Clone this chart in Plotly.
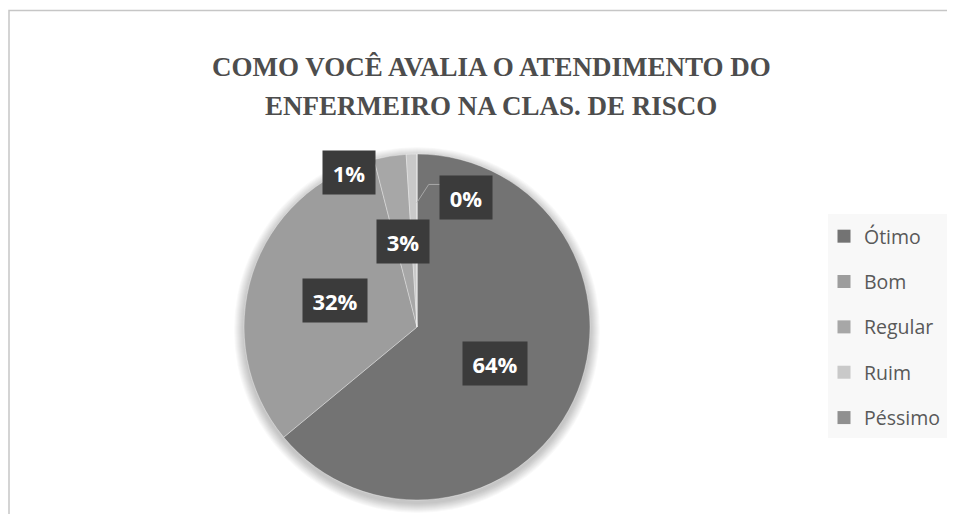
import math
import plotly.graph_objects as go

# ---------------- data ----------------
categories = ["Ótimo", "Bom", "Regular", "Ruim", "Péssimo"]
values = [64, 32, 3, 1, 0]
colors = ["#737373", "#9d9d9d", "#a7a7a7", "#c9c9c9", "#909090"]
title_lines = ["COMO VOCÊ AVALIA O ATENDIMENTO DO", "ENFERMEIRO NA CLAS. DE RISCO"]

# ---------------- layout helpers ----------------
# page body has an 8px margin; size the figure so it fits the window exactly
OFF = 8
W, H = 955 - 2 * OFF, 522 - 2 * OFF
def px(x):
    return (x - OFF) / W
def py(y):
    return 1 - (y - OFF) / H

cx, cy, R = 417, 327, 173  # pie centre / radius in window pixels

fig = go.Figure()

fig.add_trace(go.Pie(
    labels=categories,
    values=values,
    sort=False,
    direction="clockwise",
    rotation=0,
    marker=dict(colors=colors, line=dict(color="rgba(255,255,255,0.35)", width=1)),
    textinfo="none",
    hoverinfo="label+percent",
    showlegend=False,
    domain=dict(x=[px(cx - R), px(cx + R)], y=[py(cy + R), py(cy - R)]),
))

# legend entries (one group each so spacing can be set)
for lab, col in zip(categories, colors):
    fig.add_trace(go.Scatter(
        x=[None], y=[None], mode="markers",
        marker=dict(symbol="square", size=13, color=col),
        name=lab, legendgroup=lab, showlegend=True, hoverinfo="skip",
    ))

# ---------------- data labels ----------------
total = sum(values)
# label placement overrides (angle offset in degrees, radial fraction)
placement = {"Ruim": (-22, 0.976), "Péssimo": (20.6, 0.80)}
annotations = []
shapes = []
cum = 0.0
for lab, v in zip(categories, values):
    frac = v / total
    mid = (cum + frac / 2) * 360
    cum += frac
    dang, rf = placement.get(lab, (0, 0.5))
    ang = math.radians(mid + dang)
    lx = cx + rf * R * math.sin(ang)
    ly = cy - rf * R * math.cos(ang)
    txt = f"{round(frac * 100):.0f}%"
    annotations.append(dict(
        x=px(lx), y=py(ly), xref="paper", yref="paper",
        text=f"<b>{txt}</b>", showarrow=False,
        xanchor="center", yanchor="middle",
        width=50 if len(txt) <= 2 else 62, height=41,
        bgcolor="#3b3b3b",
        font=dict(family="Open Sans", size=22, color="#ffffff"),
    ))
    if lab == "Péssimo":
        # leader line from slice to label
        a0 = math.radians(mid)
        sx = cx + 0.72 * R * math.sin(a0)
        sy = cy - 0.72 * R * math.cos(a0)
        ex, ey = lx - 37, ly - 13
        fx, fy = lx - 25, ly - 13
        shapes.append(dict(
            type="path", xref="paper", yref="paper",
            path=f"M {px(sx)},{py(sy)} L {px(ex)},{py(ey)} L {px(fx)},{py(fy)}",
            line=dict(color="#a8a8a8", width=1),
        ))

# title lines
for i, line in enumerate(title_lines):
    annotations.append(dict(
        x=px(491), y=py(67 + 39 * i), xref="paper", yref="paper",
        text=f"<b>{line}</b>", showarrow=False,
        xanchor="center", yanchor="middle",
        font=dict(family="Liberation Serif", size=27, color="#4d4d4d"),
    ))

# soft shadow behind pie
for k in range(1, 11):
    r = R + k
    shapes.append(dict(
        type="circle", xref="paper", yref="paper", layer="below",
        x0=px(cx - r), x1=px(cx + r), y0=py(cy + 3 + r), y1=py(cy + 3 - r),
        fillcolor="rgba(0,0,0,0.022)", line=dict(width=0),
    ))

# chart border
shapes.append(dict(
    type="rect", xref="paper", yref="paper", layer="below",
    x0=px(9), x1=px(975), y0=py(545), y1=py(10.5),
    line=dict(color="#c6c6c6", width=1.5), fillcolor="rgba(0,0,0,0)",
))
# legend background
shapes.append(dict(
    type="rect", xref="paper", yref="paper", layer="below",
    x0=px(828), x1=px(951), y0=py(438), y1=py(214),
    line=dict(width=0), fillcolor="#f8f8f8",
))

fig.update_layout(
    width=W, height=H,
    margin=dict(l=0, r=0, t=0, b=0),
    paper_bgcolor="white", plot_bgcolor="white",
    xaxis=dict(visible=False), yaxis=dict(visible=False),
    showlegend=True,
    legend=dict(
        x=px(824), y=py(217), xanchor="left", yanchor="top",
        bgcolor="rgba(0,0,0,0)", borderwidth=0,
        font=dict(family="Open Sans", size=19.5, color="#595959"),
        tracegroupgap=17, itemwidth=30,
    ),
    annotations=annotations,
    shapes=shapes,
)

fig.write_html("out.html")
